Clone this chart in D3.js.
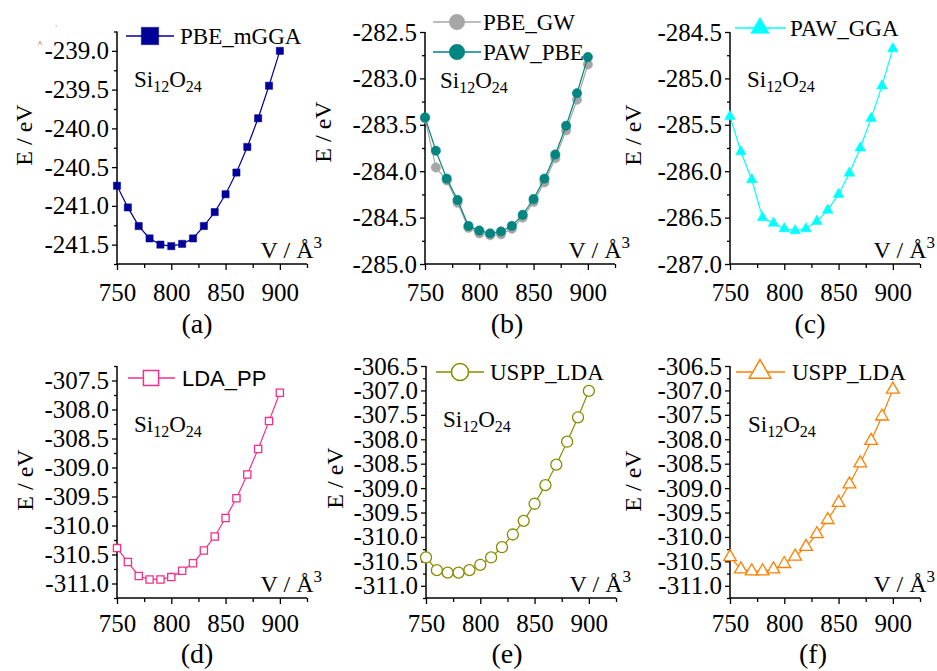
<!DOCTYPE html>
<html><head><meta charset="utf-8">
<script src="https://cdn.jsdelivr.net/npm/d3@7"></script>
</head>
<body style="margin:0">
<svg id="chart" width="937" height="671" font-family="Liberation Serif"></svg>
<script>
// ---------- data ----------
const volumes = [750,760,770,780,790,800,810,820,830,840,850,860,870,880,890,900];
const xTickLabels = [750,800,850,900];

const ePBE_mGGA = [-240.74,-241.02,-241.26,-241.42,-241.50,-241.52,-241.49,-241.42,-241.26,-241.08,-240.85,-240.57,-240.24,-239.87,-239.45,-239.00];
const ePBE_GW   = [-283.43,-283.96,-284.10,-284.34,-284.61,-284.67,-284.69,-284.68,-284.62,-284.50,-284.33,-284.12,-283.86,-283.56,-283.23,-282.85];
const ePAW_PBE  = [-283.42,-283.78,-284.08,-284.31,-284.59,-284.64,-284.67,-284.65,-284.59,-284.47,-284.30,-284.08,-283.82,-283.51,-283.16,-282.77];
const ePAW_GGA  = [-285.41,-285.79,-286.09,-286.50,-286.56,-286.62,-286.64,-286.62,-286.54,-286.42,-286.25,-286.02,-285.75,-285.43,-285.08,-284.68];
const eLDA_PP   = [-310.39,-310.63,-310.87,-310.93,-310.93,-310.89,-310.78,-310.65,-310.43,-310.19,-309.87,-309.53,-309.12,-308.68,-308.20,-307.71];
const eUSPP_LDA_e = [-310.42,-310.68,-310.73,-310.73,-310.68,-310.57,-310.42,-310.21,-309.95,-309.67,-309.32,-308.94,-308.52,-308.05,-307.55,-307.01];
const eUSPP_LDA_f = [-310.41,-310.66,-310.70,-310.70,-310.66,-310.55,-310.40,-310.20,-309.94,-309.65,-309.30,-308.92,-308.49,-308.03,-307.53,-306.98];

const yTicksA = [-241.5,-241.0,-240.5,-240.0,-239.5,-239.0];
const yTicksB = [-285.0,-284.5,-284.0,-283.5,-283.0,-282.5];
const yTicksC = [-287.0,-286.5,-286.0,-285.5,-285.0,-284.5];
const yTicksD = [-311.0,-310.5,-310.0,-309.5,-309.0,-308.5,-308.0,-307.5];
const yTicksEF = [-311.0,-310.5,-310.0,-309.5,-309.0,-308.5,-308.0,-307.5,-307.0,-306.5];

const panelLetters = ["(a)","(b)","(c)","(d)","(e)","(f)"];

// ---------- layout / styles ----------
const SERIF = '"Liberation Serif"';
const SANS = '"Liberation Sans"';
const svg = d3.select("#chart");
svg.append("rect").attr("width",937).attr("height",671).attr("fill","#fff");

function T(sel, fam, size) {
  return sel.attr("font-family", fam === SANS ? "Liberation Sans" : "Liberation Serif")
            .style("font-family", fam).style("font-size", size + "px").attr("fill","#000");
}

const panels = [
 {x0:117,x1:307,yT:31.5,yB:264,dom:[-241.75,-238.75],ticks:yTicksA,letter:0,ylab:[24,135],si:[134,87],lx:[197,333],tickBase:301,
  series:[{vals:ePBE_mGGA,name:"PBE_mGGA",color:"#000099",sym:d3.symbolSquare,size:52,fill:true,legY:36,legX:150,legSize:300}],
  legLine:[126,174],legText:180,font:"serif"},
 {x0:425,x1:615,yT:32,yB:264,dom:[-285,-282.5],ticks:yTicksB,letter:1,ylab:[323,132],si:[440,88],lx:[507,333],tickBase:301,
  series:[{vals:ePBE_GW,name:"PBE_GW",color:"#a6a6a6",sym:d3.symbolCircle,size:70,fill:true,legY:22,legX:457,legSize:190},
          {vals:ePAW_PBE,name:"PAW_PBE",color:"#008580",sym:d3.symbolCircle,size:70,fill:true,legY:52,legX:457,legSize:190}],
  legLine:[433,481],legText:483,font:"serif"},
 {x0:730,x1:920,yT:32,yB:264,dom:[-287,-284.5],ticks:yTicksC,letter:2,ylab:[633,135],si:[747,87],lx:[810,333],tickBase:301,
  series:[{vals:ePAW_GGA,name:"PAW_GGA",color:"#00ffff",sym:d3.symbolTriangle,size:50,fill:true,legY:28,legX:760,legSize:150}],
  legLine:[735,786],legText:790,font:"serif"},
 {x0:117,x1:307,yT:366,yB:598,dom:[-311.25,-307.25],ticks:yTicksD,letter:3,ylab:[25,480],si:[134,432],lx:[197,663],tickBase:632,
  series:[{vals:eLDA_PP,name:"LDA_PP",color:"#f0308c",sym:d3.symbolSquare,size:52,fill:false,legY:378,legX:151,legSize:230}],
  legLine:[128,175],legText:182,font:"sans"},
 {x0:426,x1:616,yT:366,yB:598,dom:[-311.25,-306.5],ticks:yTicksEF,letter:4,ylab:[335,478],si:[443,427],lx:[507,663],tickBase:632,
  series:[{vals:eUSPP_LDA_e,name:"USPP_LDA",color:"#8a8a00",sym:d3.symbolCircle,size:95,fill:false,legY:372,legX:460,legSize:230}],
  legLine:[436,484],legText:490,font:"serif"},
 {x0:730,x1:920,yT:366,yB:598,dom:[-311.25,-306.5],ticks:yTicksEF,letter:5,ylab:[633,481],si:[748,432],lx:[813,663],tickBase:632,
  series:[{vals:eUSPP_LDA_f,name:"USPP_LDA",color:"#ff8000",sym:d3.symbolTriangle,size:70,fill:false,legY:372,legX:760,legSize:200}],
  legLine:[736,785],legText:792,font:"serif"}
];

const fmt = v => v.toFixed(1);

panels.forEach(p => {
  const g = svg.append("g");
  const x = d3.scaleLinear().domain([750,925]).range([p.x0,p.x1]);
  const y = d3.scaleLinear().domain(p.dom).range([p.yB,p.yT]);

  const xMinor = [775,825,875,925];
  const yMinor = d3.range(p.dom[0], p.dom[1]+0.001, 0.25).filter(v => Math.abs(v*2 - Math.round(v*2)) > 0.01);

  const xAxis = g.append("g").attr("transform",`translate(0,${p.yB})`)
    .call(d3.axisBottom(x).tickValues(xTickLabels).tickSize(6).tickFormat(d3.format("d")));
  xAxis.attr("font-family", null);
  xAxis.select(".domain").remove();
  T(xAxis.selectAll("text").attr("y", p.tickBase - p.yB).attr("dy",0), SERIF, 25);
  xAxis.selectAll(".tick line").attr("stroke","#000").attr("stroke-width",1.3);
  g.append("g").attr("transform",`translate(0,${p.yB})`)
    .call(d3.axisBottom(x).tickValues(xMinor).tickSize(4).tickFormat(""))
    .call(s => s.select(".domain").remove())
    .selectAll("line").attr("stroke-width",1.3);

  const yAxis = g.append("g").attr("transform",`translate(${p.x0},0)`)
    .call(d3.axisLeft(y).tickValues(p.ticks).tickSize(5).tickPadding(3).tickFormat(fmt));
  yAxis.attr("font-family", null);
  yAxis.select(".domain").remove();
  T(yAxis.selectAll("text"), SERIF, 25);
  yAxis.selectAll(".tick line").attr("stroke-width",1.3);
  g.append("g").attr("transform",`translate(${p.x0},0)`)
    .call(d3.axisLeft(y).tickValues(yMinor).tickSize(3).tickFormat(""))
    .call(s => s.select(".domain").remove())
    .selectAll("line").attr("stroke-width",1.3);

  g.append("line").attr("x1",p.x0).attr("x2",p.x1).attr("y1",p.yB).attr("y2",p.yB).attr("stroke","#000").attr("stroke-width",1.5);
  g.append("line").attr("x1",p.x0).attr("x2",p.x0).attr("y1",p.yT).attr("y2",p.yB).attr("stroke","#000").attr("stroke-width",1.5);

  T(g.append("text").attr("transform",`translate(${p.ylab[0]},${p.ylab[1]}) rotate(-90)`)
    .attr("text-anchor","middle").attr("dy","0.35em"), SERIF, 24).text("E / eV");
  const vt = T(g.append("text").attr("x",p.x1+15).attr("y",p.yB-6).attr("text-anchor","end"), SERIF, 24);
  vt.append("tspan").text("V / Å");
  vt.append("tspan").attr("dy",-10).style("font-size","17px").text("3");

  const st = T(g.append("text").attr("x",p.si[0]).attr("y",p.si[1]), SERIF, 23);
  st.append("tspan").text("Si");
  st.append("tspan").attr("dy",5).style("font-size","16px").text("12");
  st.append("tspan").attr("dy",-5).text("O");
  st.append("tspan").attr("dy",5).style("font-size","16px").text("24");

  T(g.append("text").attr("x",p.lx[0]).attr("y",p.lx[1]).attr("text-anchor","middle"), SERIF, 28)
    .text(panelLetters[p.letter]);

  p.series.forEach(s => {
    const line = d3.line().x((d,i)=>x(volumes[i])).y(d=>y(d));
    g.append("path").datum(s.vals).attr("d",line).attr("fill","none").attr("stroke",s.color).attr("stroke-width",1.2);
    g.selectAll(null).data(s.vals).enter().append("path")
      .attr("transform",(d,i)=>`translate(${x(volumes[i])},${y(d)})`)
      .attr("d",d3.symbol().type(s.sym).size(s.size))
      .attr("fill",s.fill ? s.color : "#fff")
      .attr("stroke",s.color).attr("stroke-width",s.fill?0.5:1.3);
    g.append("line").attr("x1",p.legLine[0]).attr("x2",p.legLine[1]).attr("y1",s.legY).attr("y2",s.legY)
      .attr("stroke",s.color).attr("stroke-width",1.3);
    g.append("path").attr("transform",`translate(${s.legX},${s.legY})`)
      .attr("d",d3.symbol().type(s.sym).size(s.legSize))
      .attr("fill",s.fill ? s.color : "#fff").attr("stroke",s.color).attr("stroke-width",s.fill?0.5:1.5);
    T(g.append("text").attr("x",p.legText).attr("y",s.legY).attr("dy","0.35em"),
      p.font==="sans" ? SANS : SERIF, p.font==="sans" ? 22 : 23).text(s.name);
  });
});

T(svg.append("text").attr("x",40).attr("y",47).attr("text-anchor","middle"), SERIF, 8).text("^");
T(svg.append("text").attr("x",56).attr("y",31).attr("text-anchor","middle"), SERIF, 9).attr("fill","#999").text("'");
</script>
</body></html>
